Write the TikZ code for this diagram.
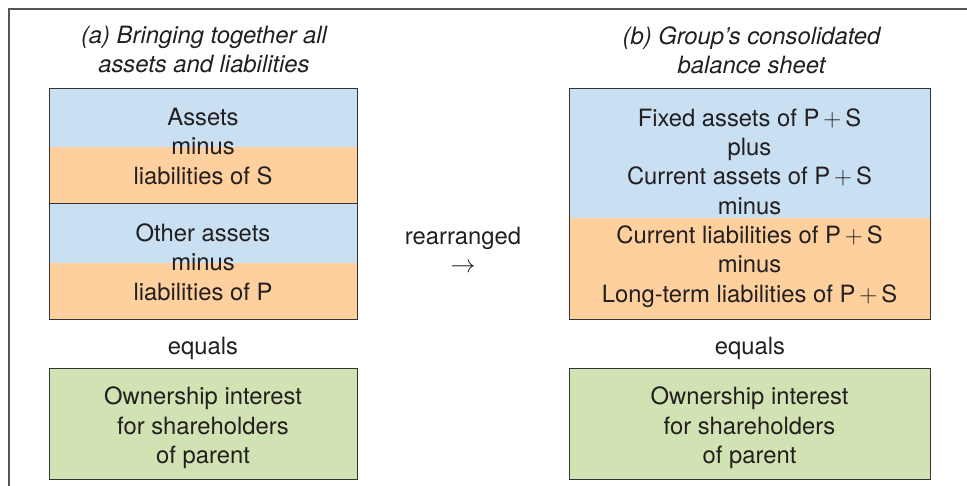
\documentclass[tikz,border=0pt]{standalone}
\usepackage{fontspec}
\setmainfont{TeX Gyre Heros}
\definecolor{bluef}{HTML}{C9DFF2}
\definecolor{orangef}{HTML}{FDD09E}
\definecolor{greenf}{HTML}{D1E3B2}
\definecolor{boxline}{HTML}{333333}
\definecolor{txt}{HTML}{231F20}
\definecolor{framec}{HTML}{555555}
\newcommand{\pplus}{P\,$+$\,S}
\begin{document}
\begin{tikzpicture}[x=1pt,y={(0pt,-1pt)},
  every node/.style={text=txt},
  box/.style={draw=boxline, line width=1pt, inner sep=0pt},
  lbl/.style={inner sep=0pt, align=center, font=\fontsize{23.8}{29.3}\selectfont},
  ttl/.style={inner sep=0pt, align=center, font=\itshape\fontsize{23.8}{29}\selectfont}]
\useasboundingbox (0,0) rectangle (967,486);
% outer frame
\coordinate (fb) at (9,486);
\coordinate (ft) at (9,9);
\coordinate (fr) at (967,9);
\draw[framec, line width=1.4pt] (fb) -- (ft) -- (fr);
% fills
\fill[bluef] (49,89) rectangle (357,147);
\fill[orangef] (49,147) rectangle (357,204);
\fill[bluef] (49,204) rectangle (357,263);
\fill[orangef] (49,263) rectangle (357,320);
\fill[bluef] (569,89) rectangle (930,218);
\fill[orangef] (569,218) rectangle (930,320);
% titles
\node[ttl] (ta) at (204,50) {(a) Bringing together all\\assets and liabilities};
\node[ttl] (tb) at (751.5,50) {(b) Group’s consolidated\\balance sheet};
% left boxes
\node[box, minimum width=308pt, minimum height=115pt] (l1) at (203,146.5) {};
\node[lbl] (l1t) at (203,146.5) {Assets\\minus\\liabilities of S};
\node[box, minimum width=308pt, minimum height=116pt] (l2) at (203,262) {};
\node[lbl] (l2t) at (203,262) {Other assets\\minus\\liabilities of P};
\node[lbl] (le) at (203,348) {equals};
\node[box, fill=greenf, minimum width=308pt, minimum height=110pt] (lg) at (203,424) {};
\node[lbl] (lgt) at (203,428) {Ownership interest\\for shareholders\\of parent};
% middle
\node[lbl] (rr) at (463,238) {rearranged};
\node[lbl] (ar) at (463,268) {$\rightarrow$};
% right boxes
\node[box, minimum width=361pt, minimum height=231pt] (r1) at (749.5,204.5) {};
\node[lbl] (r1t) at (749.5,208) {Fixed assets of \pplus\\plus\\Current assets of \pplus\\minus\\Current liabilities of \pplus\\minus\\Long-term liabilities of \pplus};
\node[lbl] (re) at (750,348) {equals};
\node[box, fill=greenf, minimum width=361pt, minimum height=110pt] (rg) at (749.5,424) {};
\node[lbl] (rgt) at (749.5,428) {Ownership interest\\for shareholders\\of parent};
\end{tikzpicture}
\end{document}
